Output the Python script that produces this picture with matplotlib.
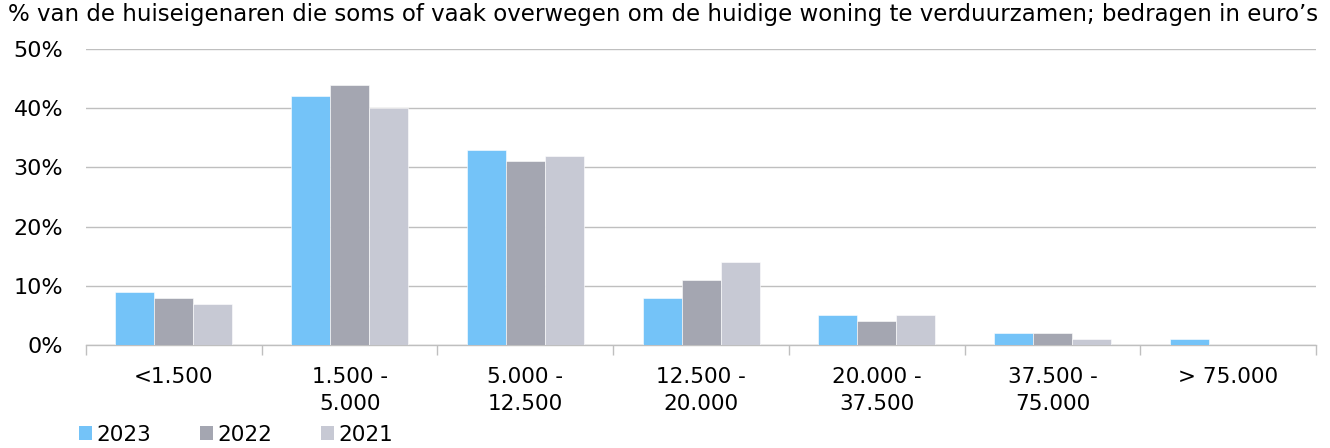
import matplotlib
matplotlib.use("Agg")
import matplotlib.pyplot as plt
import numpy as np
from matplotlib.patches import Patch

categories = ["<1.500", "1.500 -\n5.000", "5.000 -\n12.500", "12.500 -\n20.000",
              "20.000 -\n37.500", "37.500 -\n75.000", "> 75.000"]
years = ["2023", "2022", "2021"]
v2023 = [9, 42, 33, 8, 5, 2, 1]
v2022 = [8, 44, 31, 11, 4, 2, 0]
v2021 = [7, 40, 32, 14, 5, 1, 0]
yticks = [0, 10, 20, 30, 40, 50]
title = "% van de huiseigenaren die soms of vaak overwegen om de huidige woning te verduurzamen; bedragen in euro’s"

colors = ["#74C3F8", "#A4A6B1", "#C7C9D4"]
FS = 15.5
plt.rcParams['font.family'] = ['DejaVu Sans']

fig = plt.figure(figsize=(13.3, 4.48), dpi=100)
ax = fig.add_axes([0.0647, 0.2299, 0.9248, 0.6607])

x = np.arange(len(categories))
w = 0.222
for i, (vals, c) in enumerate(zip([v2023, v2022, v2021], colors)):
    ax.bar(x + (i - 1) * w, vals, width=w, color=c, edgecolor="white", linewidth=0.4, zorder=3)

ax.set_xlim(-0.5, len(categories) - 0.5)
ax.set_ylim(0, 50)
ax.set_yticks(yticks)
ax.set_yticklabels([f"{t}%" for t in yticks], fontsize=16)
ax.yaxis.grid(True, color="#BFBFBF", linewidth=1.0, zorder=0)
ax.tick_params(axis="y", length=0, pad=16.5)

ax.set_xticks(np.arange(len(categories) + 1) - 0.5)
ax.set_xticklabels([])
ax.set_xticks(x, minor=True)
ax.set_xticklabels(categories, minor=True, fontsize=FS, linespacing=1.45)
ax.tick_params(axis="x", which="major", length=7, color="#BFBFBF", width=1.0)
ax.tick_params(axis="x", which="minor", length=0, pad=15.5)

for s in ["top", "right", "left"]:
    ax.spines[s].set_visible(False)
ax.spines["bottom"].set_color("#BFBFBF")
ax.spines["bottom"].set_linewidth(1.0)

fig.text(0.006, 0.968, title, fontsize=16.5, va="center", ha="left")

handles = [Patch(facecolor=c, edgecolor="none") for c in colors]
fig.legend(handles, years, loc="lower left", bbox_to_anchor=(0.053, -0.012), ncol=3,
           frameon=False, fontsize=FS, handlelength=0.6, handleheight=0.6,
           handletextpad=0.18, columnspacing=2.3, borderaxespad=0)

fig.savefig("out.png", dpi=100)
